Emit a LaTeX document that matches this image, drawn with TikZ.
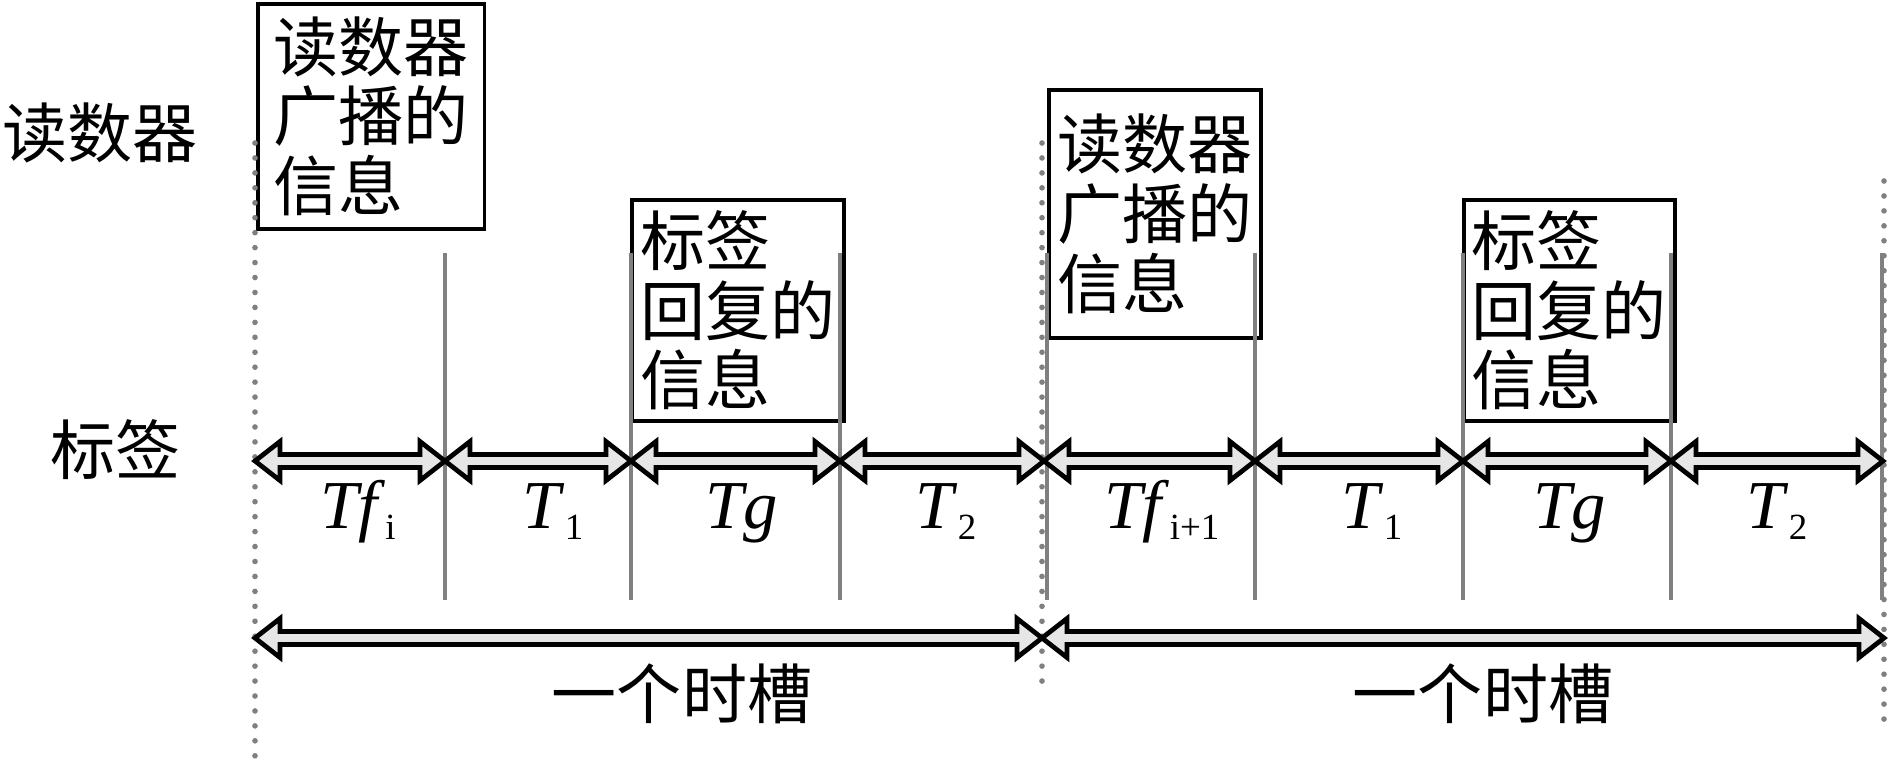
\documentclass[tikz,border=0pt]{standalone}
\usepackage{fontspec}
\setmainfont{Liberation Serif}
\newfontfamily\cjk{Noto Sans CJK SC}
\usepackage{tikz}
\usetikzlibrary{calc}
\definecolor{guidegray}{HTML}{808080}
\definecolor{arrowfill}{HTML}{E6E6E6}

\newcommand{\lowsub}[1]{\raisebox{-3.4pt}{\fontsize{10.5}{10.5}\selectfont #1}}
\newcommand{\blockarrow}[2]{%
  \draw[blockarr] (#1)
    -- ([shift={(25,-19.5)}]#1) -- ([shift={(25,-6.5)}]#1)
    -- ([shift={(-25,-6.5)}]#2) -- ([shift={(-25,-19.5)}]#2)
    -- (#2)
    -- ([shift={(-25,19.5)}]#2) -- ([shift={(-25,6.5)}]#2)
    -- ([shift={(25,6.5)}]#1) -- ([shift={(25,19.5)}]#1) -- cycle;}

\begin{document}
\begin{tikzpicture}[
    x=0.01cm, y=-0.01cm,
    cjklabel/.style={inner sep=0pt, font=\cjk\fontsize{18.5}{20}\selectfont},
    msgbox/.style={rectangle, draw, line width=1pt, fill=white, anchor=north west,
                   align=left, inner xsep=2pt, inner ysep=0pt,
                   font=\cjk\fontsize{18.5}{19.8}\selectfont},
    timelabel/.style={anchor=base, inner sep=0pt, font=\fontsize{19.5}{20}\selectfont},
    guide/.style={guidegray, line width=1pt},
    dotline/.style={guidegray, line width=1.6pt, line cap=round, dash pattern=on 0pt off 4.25pt},
    blockarr/.style={draw=black, fill=arrowfill, line width=1.35pt, line join=miter},
]
    \useasboundingbox (0,0) rectangle (1890,763);

    % ── Row labels ──
    \node[cjklabel] (reader) at (100,133) {读数器};
    \node[cjklabel] (tag)    at (116,450) {标签};

    % ── Message boxes ──
    \node[msgbox, inner xsep=4.5pt, minimum width=2.26cm, minimum height=2.25cm] (rd1) at (256,2)
        {读数器\\广播的\\信息};
    \node[msgbox, minimum width=2.12cm, minimum height=2.21cm] (tg1) at (630,198)
        {标签\\回复的\\信息};
    \node[msgbox, minimum width=2.12cm, minimum height=2.48cm] (rd2) at (1047,88)
        {读数器\\广播的\\信息};
    \node[msgbox, minimum width=2.11cm, minimum height=2.21cm] (tg2) at (1462,198)
        {标签\\回复的\\信息};

    % ── Slot borders (dotted) ──
    \draw[dotline] (255,143) -- (255,763);
    \draw[dotline] (1042,143) -- (1042,690);
    \draw[dotline] (1884,181) -- (1884,720);

    % ── Interval borders ──
    \draw[guide] (445,253) -- (445,600);
    \draw[guide] (631,253) -- (631,600);
    \draw[guide] (840,253) -- (840,600);
    \draw[guide] (1047,253) -- (1047,600);
    \draw[guide] (1255,253) -- (1255,600);
    \draw[guide] (1463,253) -- (1463,600);
    \draw[guide] (1671,253) -- (1671,600);
    \draw[guide] (1882,253) -- (1882,600);

    % ── Interval arrows ──
    \coordinate (b0) at (255,461);
    \coordinate (b1) at (445,461);
    \coordinate (b2) at (631,461);
    \coordinate (b3) at (840,461);
    \coordinate (b4) at (1044,461);
    \coordinate (b5) at (1255,461);
    \coordinate (b6) at (1463,461);
    \coordinate (b7) at (1671,461);
    \coordinate (b8) at (1883,461);

    \blockarrow{b0}{b1}
    \blockarrow{b1}{b2}
    \blockarrow{b2}{b3}
    \blockarrow{b3}{b4}
    \blockarrow{b4}{b5}
    \blockarrow{b5}{b6}
    \blockarrow{b6}{b7}
    \blockarrow{b7}{b8}

    \node[timelabel] (tf1) at (358,528)  {\textit{Tf}\lowsub{i}};
    \node[timelabel] (ta1) at (553,528)  {\textit{T}\lowsub{1}};
    \node[timelabel] (tg1l) at (742,528) {\textit{Tg}};
    \node[timelabel] (tb1) at (946,528)  {\textit{T}\lowsub{2}};
    \node[timelabel] (tf2) at (1162,528) {\textit{Tf}\lowsub{i+1}};
    \node[timelabel] (ta2) at (1372,528) {\textit{T}\lowsub{1}};
    \node[timelabel] (tg2l) at (1570,528) {\textit{Tg}};
    \node[timelabel] (tb2) at (1777,528) {\textit{T}\lowsub{2}};

    % ── Slot arrows ──
    \coordinate (s0) at (255,638);
    \coordinate (s1) at (1042,638);
    \coordinate (s2) at (1884,638);

    \blockarrow{s0}{s1}
    \blockarrow{s1}{s2}

    \node[cjklabel] (slot1) at (682,694)  {一个时槽};
    \node[cjklabel] (slot2) at (1483,694) {一个时槽};

\end{tikzpicture}
\end{document}
